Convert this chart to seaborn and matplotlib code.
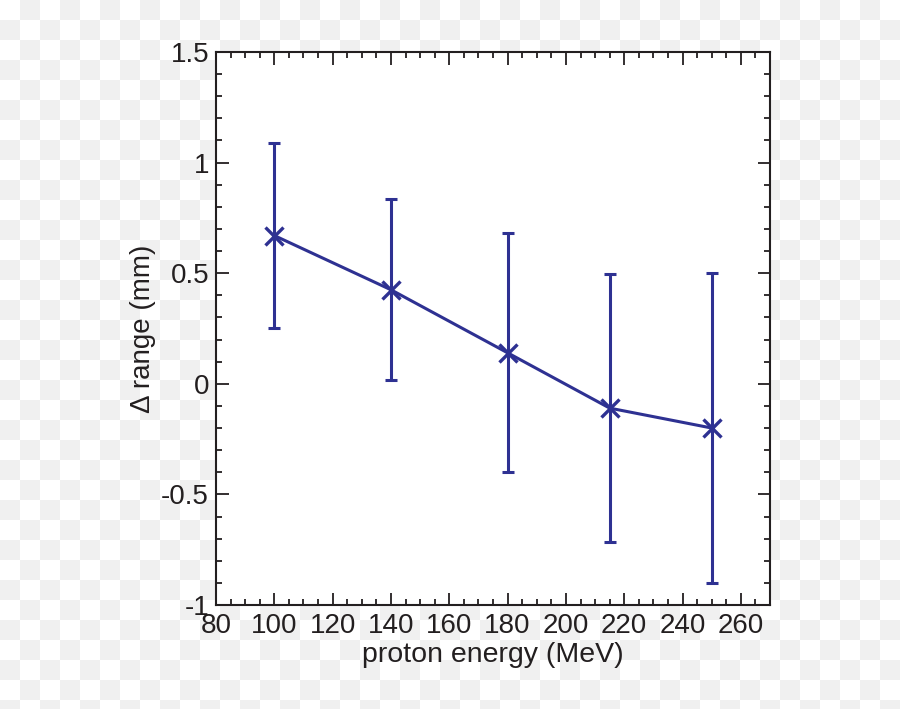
import numpy as np
import pandas as pd
import matplotlib
matplotlib.use("Agg")
import matplotlib.pyplot as plt
import seaborn as sns
from matplotlib.ticker import MultipleLocator

# data
energy = [100, 140, 180, 215, 250]
delta_range = [0.67, 0.425, 0.14, -0.11, -0.20]
err = [0.42, 0.41, 0.54, 0.605, 0.70]

df = pd.DataFrame({"energy": energy, "delta": delta_range, "err": err})

sns.set_theme(style="ticks")
plt.rcParams["font.family"] = ["Liberation Sans", "DejaVu Sans"]

color = "#2e3192"
ink = "#231f20"

fig = plt.figure(figsize=(9, 7.09), dpi=100)

# checkered background (transparent look)
h, w = 709, 900
yy, xx = np.mgrid[0:h, 0:w]
checker = np.where(((yy // 20) + (xx // 20)) % 2 == 0, 255, 240).astype(float)
fig.figimage(checker, cmap="gray", vmin=0, vmax=255, origin="upper", zorder=-10)

ax = fig.add_axes([0.24, 0.1467, 0.6156, 0.78])
ax.set_zorder(1)
ax.set_facecolor("white")

ax.errorbar(df["energy"], df["delta"], yerr=df["err"], fmt="none",
            ecolor=color, elinewidth=2.2, capsize=4.5, capthick=2.2, zorder=2)
sns.lineplot(data=df, x="energy", y="delta", ax=ax, color=color,
             marker="x", markersize=13, markeredgewidth=2.4,
             markeredgecolor=color, linewidth=2.2, zorder=3)

ax.set_xlim(80, 270)
ax.set_ylim(-1, 1.5)
ax.xaxis.set_major_locator(MultipleLocator(20))
ax.xaxis.set_minor_locator(MultipleLocator(5))
ax.yaxis.set_major_locator(MultipleLocator(0.5))
ax.yaxis.set_minor_locator(MultipleLocator(0.1))
ax.set_yticks([-1, -0.5, 0, 0.5, 1, 1.5])
ax.set_yticklabels(["-1", "-0.5", "0", "0.5", "1", "1.5"])

ax.tick_params(which="both", direction="in", top=True, right=True,
               colors=ink, labelsize=20, width=1.3)
ax.tick_params(which="major", length=9)
ax.tick_params(which="minor", length=4.5)
ax.tick_params(axis="x", pad=6)
ax.tick_params(axis="y", pad=5)
for s in ax.spines.values():
    s.set_linewidth(1.5)
    s.set_color(ink)

ax.set_xlabel("proton energy (MeV)", fontsize=20.5, color=ink, labelpad=2)
ax.set_ylabel("Δ range (mm)", fontsize=20, color=ink, labelpad=4)

fig.savefig("out.png", dpi=100)
